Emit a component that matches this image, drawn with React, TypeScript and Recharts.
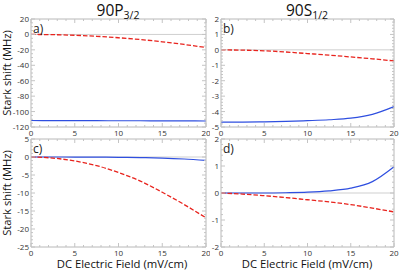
import React from 'react'
import { LineChart, Line, XAxis, YAxis, ReferenceLine } from 'recharts'

// field values (mV/cm)
const fields = [0, 2.5, 5, 7.5, 10, 12.5, 15, 17.5, 20]

// 90P3/2 shifts (MHz)
const pRedA = [0, -0.3, -1.1, -2.4, -4.3, -6.6, -9.6, -13.0, -17.0]
const pBlueA = [-111.6, -111.7, -111.7, -111.8, -111.9, -111.9, -112.0, -112.1, -112.2]
const pRedC = [0, -0.3, -1.1, -2.4, -4.3, -6.7, -9.8, -13.2, -16.9]
const pBlueC = [0, 0, -0.01, -0.03, -0.08, -0.16, -0.3, -0.55, -0.92]

// 90S1/2 shifts (MHz)
const sRedB = [0, -0.02, -0.06, -0.14, -0.24, -0.34, -0.46, -0.58, -0.72]
const sBlueB = [-4.68, -4.68, -4.67, -4.64, -4.59, -4.53, -4.43, -4.18, -3.68]
const sRedD = [0, -0.04, -0.1, -0.17, -0.25, -0.33, -0.43, -0.56, -0.7]
const sBlueD = [0, 0, 0, 0.01, 0.03, 0.08, 0.18, 0.42, 0.97]

const xMajor = [0, 5, 10, 15, 20]
const yMajorA = [20, 0, -20, -40, -60, -80, -100, -120]
const yMajorB = [2, 1, 0, -1, -2, -3, -4, -5]
const yMajorC = [5, 0, -5, -10, -15, -20, -25]
const yMajorD = [2, 1, 0, -1, -2]

const titles = ['90P', '90S']
const titleSubs = ['3/2', '1/2']
const panelLabels = ['a)', 'b)', 'c)', 'd)']

const FRAME = '#b8b8b8'
const TICK = '#c4c4c4'
const TEXT = '#333'
const RED = '#e8231d'
const BLUE = '#2f4fe0'
const FONT = '"Open Sans", sans-serif'

const range = (from: number, to: number, step: number) => {
  const out: number[] = []
  for (let v = from; v <= to + 1e-9; v += step) out.push(Math.round(v * 1000) / 1000)
  return out
}

const isMajor = (majors: number[], v: number) => majors.some(m => Math.abs(m - v) < 1e-6)

type Side = 'bottom' | 'top' | 'left' | 'right'

const makeTick = (side: Side, majors: number[], showLabel: boolean) => (props: any) => {
  const { x, y, payload } = props
  const v = payload.value
  const major = isMajor(majors, v)
  const len = major ? 4 : 2
  let line = null
  let label = null
  if (side === 'bottom') {
    line = <line x1={x} y1={y} x2={x} y2={y - len} stroke={TICK} />
    if (showLabel && major) label = <text x={x} y={y + 8.5} textAnchor="middle" fontSize={8} fill={TEXT} fontFamily={FONT}>{v}</text>
  } else if (side === 'top') {
    line = <line x1={x} y1={y} x2={x} y2={y + len} stroke={TICK} />
  } else if (side === 'left') {
    line = <line x1={x} y1={y} x2={x + len} y2={y} stroke={TICK} />
    if (showLabel && major) label = <text x={x - 2} y={y + 3} textAnchor="end" fontSize={8} fill={TEXT} fontFamily={FONT}>{v}</text>
  } else {
    line = <line x1={x} y1={y} x2={x - len} y2={y} stroke={TICK} />
  }
  return <g>{line}{label}</g>
}

interface PanelProps {
  left: number
  top: number
  width: number
  marginRight: number
  red: number[]
  blue: number[]
  yDomain: [number, number]
  yMajor: number[]
  yMinorStep: number
  label: string
}

function Panel({ left, top, width, marginRight, red, blue, yDomain, yMajor, yMinorStep, label }: PanelProps) {
  const data = fields.map((f, i) => ({ x: f, red: red[i], blue: blue[i] }))
  const xTicks = range(0, 20, 1)
  const yTicks = range(yDomain[0], yDomain[1], yMinorStep)
  return (
    <div style={{ position: 'absolute', left, top }}>
      <LineChart width={width} height={145} data={data} margin={{ top: 18, right: marginRight, left: 0, bottom: 0 }}>
        <XAxis xAxisId="b" dataKey="x" type="number" domain={[0, 20]} ticks={xTicks} interval={0}
          height={18} tickSize={0} tickMargin={0} tickLine={false} axisLine={{ stroke: FRAME }}
          tick={makeTick('bottom', xMajor, true)} />
        <XAxis xAxisId="t" dataKey="x" type="number" domain={[0, 20]} ticks={xTicks} interval={0}
          orientation="top" height={1} tickSize={0} tickMargin={0} tickLine={false} axisLine={{ stroke: FRAME }}
          tick={makeTick('top', xMajor, false)} />
        <YAxis yAxisId="l" type="number" domain={yDomain} ticks={yTicks} interval={0} allowDataOverflow
          width={31} tickSize={0} tickMargin={0} tickLine={false} axisLine={{ stroke: FRAME }}
          tick={makeTick('left', yMajor, true)} />
        <YAxis yAxisId="r" orientation="right" type="number" domain={yDomain} ticks={yTicks} interval={0} allowDataOverflow
          width={1} tickSize={0} tickMargin={0} tickLine={false} axisLine={{ stroke: FRAME }}
          tick={makeTick('right', yMajor, false)} />
        <ReferenceLine xAxisId="b" yAxisId="l" y={0} stroke="#cfcfcf" strokeWidth={1} />
        <Line xAxisId="b" yAxisId="l" type="monotone" dataKey="blue" stroke={BLUE} strokeWidth={1.2} dot={false} isAnimationActive={false} />
        <Line xAxisId="b" yAxisId="l" type="monotone" dataKey="red" stroke={RED} strokeWidth={1.3} strokeDasharray="4.5 2" dot={false} isAnimationActive={false} />
      </LineChart>
      <div style={{ position: 'absolute', left: 33, top: 22, fontFamily: FONT, fontSize: 12, color: '#222', lineHeight: '13px' }}>{label}</div>
    </div>
  )
}

export default function App() {
  return (
    <div style={{ position: 'absolute', left: 0, top: 0, width: 399, height: 271, background: '#fff', overflow: 'hidden' }}>
      <Panel left={0} top={0} width={210} marginRight={3} red={pRedA} blue={pBlueA} yDomain={[-120, 20]} yMajor={yMajorA} yMinorStep={5} label={panelLabels[0]} />
      <Panel left={190} top={0} width={209} marginRight={4} red={sRedB} blue={sBlueB} yDomain={[-5, 2]} yMajor={yMajorB} yMinorStep={0.2} label={panelLabels[1]} />
      <Panel left={0} top={120} width={210} marginRight={3} red={pRedC} blue={pBlueC} yDomain={[-25, 5]} yMajor={yMajorC} yMinorStep={1} label={panelLabels[2]} />
      <Panel left={190} top={120} width={209} marginRight={4} red={sRedD} blue={sBlueD} yDomain={[-2, 2]} yMajor={yMajorD} yMinorStep={0.2} label={panelLabels[3]} />
      <svg width={399} height={271} style={{ position: 'absolute', left: 0, top: 0, pointerEvents: 'none' }}>
        <g fontFamily={FONT} fill="#111">
          <text x={118} y={16} textAnchor="middle" fontSize={15.5}>
            {titles[0]}<tspan fontSize={10.5} dy={3}>{titleSubs[0]}</tspan>
          </text>
          <text x={307} y={16} textAnchor="middle" fontSize={15.5}>
            {titles[1]}<tspan fontSize={10.5} dy={3}>{titleSubs[1]}</tspan>
          </text>
          <text transform="translate(11,73) rotate(-90)" textAnchor="middle" fontSize={11.2}>Stark shift (MHz)</text>
          <text transform="translate(11,193) rotate(-90)" textAnchor="middle" fontSize={11.2}>Stark shift (MHz)</text>
          <text x={122} y={268} textAnchor="middle" fontSize={11.3}>DC Electric Field (mV/cm)</text>
          <text x={307} y={268} textAnchor="middle" fontSize={11.3}>DC Electric Field (mV/cm)</text>
        </g>
      </svg>
    </div>
  )
}
